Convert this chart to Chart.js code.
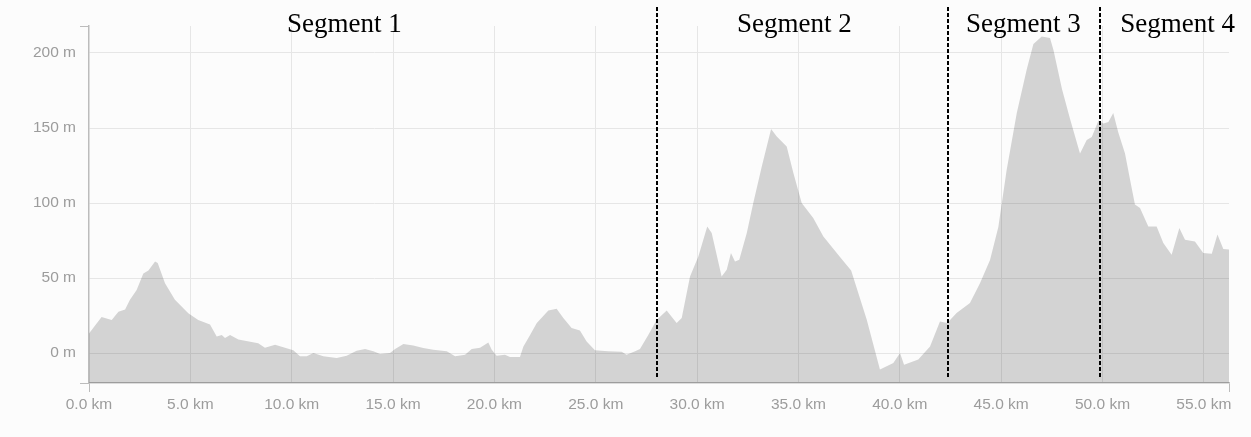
<!DOCTYPE html>
<html>
<head>
<meta charset="utf-8">
<script src="https://cdn.jsdelivr.net/npm/chart.js@4/dist/chart.umd.min.js"></script>
<style>
  body { margin: 0; background: #fcfcfc; }
  canvas { display: block; }
</style>
</head>
<body>
<canvas id="profile" width="1251" height="437"></canvas>
<script>
"use strict";

// distance along the route (km) and elevation (m)
const distKm = [
  0.0, 0.62, 1.12, 1.45, 1.78, 2.02, 2.35, 2.68, 2.93, 3.26, 3.39, 3.75, 4.24, 4.9, 5.39,
  5.97, 6.3, 6.55, 6.71, 6.96, 7.37, 8.35, 8.68, 9.18, 9.67, 10.08, 10.41, 10.74, 11.07, 11.56,
  12.22, 12.71, 13.2, 13.62, 14.03, 14.36, 14.85, 15.1, 15.51, 16.0, 16.49, 16.99, 17.65, 18.06, 18.55,
  18.88, 19.29, 19.7, 19.87, 20.11, 20.52, 20.77, 21.26, 21.43, 21.76, 22.09, 22.66, 23.07, 23.4, 23.81,
  24.22, 24.55, 24.96, 25.62, 26.28, 26.52, 26.94, 27.18, 27.59, 28.0, 28.5, 28.99, 29.24, 29.65, 30.06,
  30.5, 30.72, 31.21, 31.46, 31.67, 31.87, 32.08, 32.45, 32.77, 33.19, 33.65, 33.93, 34.42, 34.75, 35.16,
  35.73, 36.23, 37.05, 37.6, 38.37, 39.02, 39.68, 40.01, 40.21, 40.91, 41.49, 41.98, 42.34, 42.8, 43.46,
  43.96, 44.45, 44.86, 45.27, 45.77, 46.26, 46.59, 46.92, 47.0, 47.41, 47.58, 48.0, 48.4, 48.89, 49.22,
  49.47, 49.8, 50.04, 50.29, 50.53, 50.78, 51.11, 51.36, 51.6, 51.85, 52.26, 52.67, 53.0, 53.41, 53.79,
  54.07, 54.56, 54.97, 55.39, 55.67, 55.96, 56.24
];
const elevM = [
  13, 24, 22, 27.5, 29, 35.5, 42, 53, 55, 61, 60, 46.5, 35.5, 26.5, 22,
  19, 11, 12, 10, 12, 9, 6.5, 3.5, 5.5, 3.5, 1.8, -2.2, -2.2, 0, -2.2,
  -3.3, -1.8, 1.5, 2.7, 1.1, -0.7, 0, 2.7, 6, 5, 3.3, 2.2, 1.1, -2.2, -1.1,
  2.7, 3.5, 7, 2.2, -1.8, -1.1, -2.7, -2.7, 4.4, 12, 20, 28.4, 29.5, 23.3, 16.7,
  15, 7.7, 1.8, 1.1, 0.9, -1.1, 1.1, 2.7, 12, 22, 28.4, 20, 23.3, 51, 64.4,
  84.4, 80, 51, 55.5, 66.7, 61, 62.2, 80, 100, 124.4, 149.3, 144.4, 137.7, 120, 100,
  90, 77.7, 64, 55, 22.2, -11, -6.7, 0, -7.8, -4.4, 4.4, 21, 20, 26.7, 33.3,
  46.7, 62, 84, 122, 160, 189, 206, 210, 211, 210, 202, 176, 156, 133, 142,
  144, 155, 153, 154, 160, 147, 133, 115.5, 99, 96.7, 84.4, 84.4, 73.3, 65.5, 83.3,
  75.5, 74.4, 66.7, 66.2, 79, 69.3, 69
];

// axis ticks
const xTicks = [0, 5, 10, 15, 20, 25, 30, 35, 40, 45, 50, 55];
const yTicks = [0, 50, 100, 150, 200];
const xMin = 0, xMax = 56.24;
const yMin = -20, yMax = 218;

// segment borders (km) and label centres (km)
const segmentBreaks = [28.02, 42.36, 49.88];
const segmentNames = ["Segment 1", "Segment 2", "Segment 3", "Segment 4"];
const segmentCentres = [12.6, 34.8, 46.1, 53.7];

const axisColor = "#bcbcbc";
const gridColor = "#e6e6e6";
const labelColor = "#9c9c9c";
const tickFont = { family: "'Liberation Sans', Arial, sans-serif", size: 15.5 };

const isBound = (ctx) => ctx.index === 0 || ctx.index === ctx.scale.ticks.length - 1;

// dashed segment borders and the serif segment titles
const segmentPlugin = {
  id: "segments",
  afterDraw(chart) {
    const { ctx, chartArea } = chart;
    const xs = chart.scales.x;
    const ys = chart.scales.y;
    ctx.save();
    ctx.strokeStyle = "#000";
    ctx.lineWidth = 2;
    ctx.setLineDash([4, 2]);
    segmentBreaks.forEach(km => {
      const px = Math.round(xs.getPixelForValue(km));
      ctx.beginPath();
      ctx.moveTo(px, chartArea.top - 19);
      ctx.lineTo(px, ys.getPixelForValue(-16));
      ctx.stroke();
    });
    ctx.setLineDash([]);
    ctx.fillStyle = "#000";
    ctx.font = "27px 'Liberation Serif', 'DejaVu Serif', serif";
    ctx.textAlign = "center";
    ctx.textBaseline = "alphabetic";
    segmentNames.forEach((name, i) => {
      ctx.fillText(name, xs.getPixelForValue(segmentCentres[i]), chartArea.top + 6);
    });
    ctx.restore();
  }
};

const points = distKm.map((d, i) => ({ x: d, y: elevM[i] }));

new Chart(document.getElementById("profile"), {
  type: "line",
  data: {
    datasets: [
      {
        data: points,
        fill: "start",
        backgroundColor: "rgba(0, 0, 0, 0.16)",
        borderWidth: 0,
        pointRadius: 0,
        tension: 0
      }
    ]
  },
  options: {
    responsive: false,
    animation: false,
    devicePixelRatio: 1,
    layout: { padding: { top: 26, right: 22, left: 0, bottom: 0 } },
    plugins: {
      legend: { display: false },
      tooltip: { enabled: false }
    },
    scales: {
      x: {
        type: "linear",
        min: xMin,
        max: xMax,
        afterBuildTicks: (scale) => {
          scale.ticks = [xMin, ...xTicks.filter(v => v > xMin), xMax].map(v => ({ value: v }));
        },
        afterFit: (scale) => { scale.height = 54; },
        ticks: {
          autoSkip: false,
          maxRotation: 0,
          padding: 3,
          color: labelColor,
          font: tickFont,
          callback: (v) => xTicks.includes(v) ? v.toFixed(1) + " km" : ""
        },
        grid: {
          color: (ctx) => isBound(ctx) ? "rgba(0,0,0,0)" : gridColor,
          tickColor: (ctx) => isBound(ctx) ? axisColor : "rgba(0,0,0,0)",
          tickLength: 9
        },
        border: { color: axisColor, width: 1.5 }
      },
      y: {
        min: yMin,
        max: yMax,
        afterBuildTicks: (scale) => {
          scale.ticks = [yMin, ...yTicks, yMax].map(v => ({ value: v }));
        },
        afterFit: (scale) => { scale.width = 89; },
        ticks: {
          padding: 4,
          color: labelColor,
          font: tickFont,
          callback: (v) => yTicks.includes(v) ? v + " m" : ""
        },
        grid: {
          color: (ctx) => isBound(ctx) ? "rgba(0,0,0,0)" : gridColor,
          tickColor: (ctx) => isBound(ctx) ? axisColor : "rgba(0,0,0,0)",
          tickLength: 9
        },
        border: { color: axisColor, width: 1.5 }
      }
    }
  },
  plugins: [segmentPlugin]
});
</script>
</body>
</html>
